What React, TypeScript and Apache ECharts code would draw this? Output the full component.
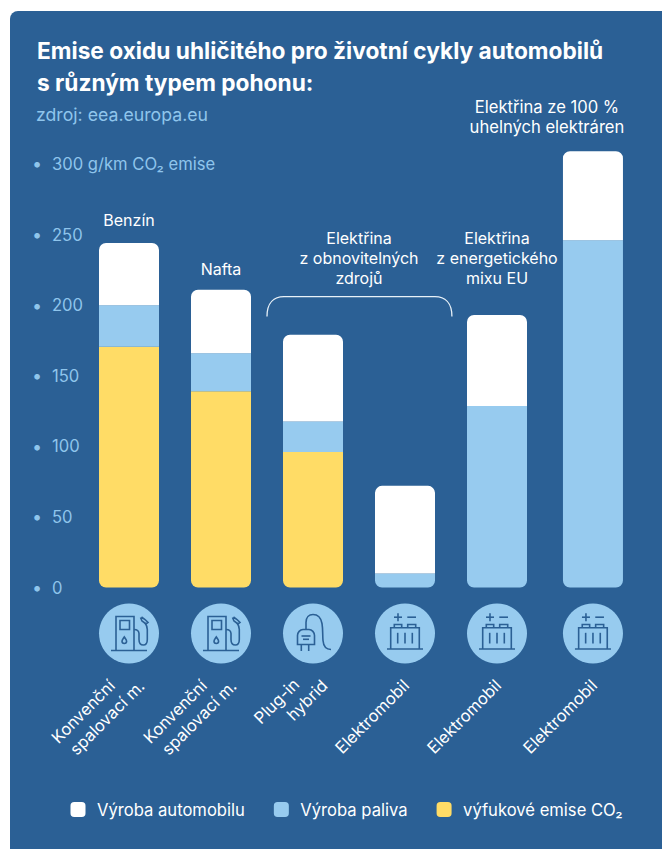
import React, { useEffect, useRef } from "react";
import * as echarts from "echarts";

const FONT = "Inter";
const PANEL = "#2b6095";
const SKY = "#97cbef";
const SAND = "#ffdc66";
const WHITE = "#ffffff";
const AXIS_TEXT = "#8fc5ec";

// Bar slots along the horizontal axis; the coal-powered car stands slightly apart.
const slots = [1, 2, 3, 4, 5, 6.043];
const exhaustEmissions = [170.6, 139, 96, 0, 0, 0];
const fuelProduction = [29.4, 27, 21.5, 10, 128.5, 246];
const carProduction = [44, 45, 61.5, 62, 64.5, 63];

const vehicleLabels = [
  ["Konvenční", "spalovací m."],
  ["Konvenční", "spalovací m."],
  ["Plug-in", "hybrid"],
  ["Elektromobil"],
  ["Elektromobil"],
  ["Elektromobil"],
];
const vehicleIcons = ["pump", "pump", "plug", "battery", "battery", "battery"];

const notes: [number, number, string, number][] = [
  [1, 260, "Benzín", 16],
  [2, 225.5, "Nafta", 16],
  [3.5, 233.5, "Elektřina\nz obnovitelných\nzdrojů", 16],
  [5, 233.5, "Elektřina\nz energetického\nmixu EU", 16],
  [5.543, 333, "Elektřina ze 100 %\nuhelných elektráren", 16.6],
];

const bracketSpan = [2.5, 4.51];
const bracketLevels = [192, 206];

const iconPaths: Record<string, string[]> = {
  pump: [
    "M-18 17H18",
    "M-13 17V-17H5V17",
    "M-9 -13H0.5V-4H-9Z",
    "M-4.7 3.5C-6 5.5 -7 6.5 -7 7.8C-7 9.2 -6 10 -4.7 10C-3.4 10 -2.4 9.2 -2.4 7.8C-2.4 6.5 -3.4 5.5 -4.7 3.5Z",
    "M5 -4C8 -4 9.8 -3 10 0V6C10 9.5 12 11.5 14.3 11.5C16.6 11.5 18.3 9.5 18.3 6V-4C18.3 -7 17.5 -8.5 16 -10.5",
    "M11.5 -16L13 -12.5L17 -9.5L19 -11L16 -14L12.5 -16.5",
  ],
  plug: [
    "M-7 -4V-11C-7 -16 -4 -19 0 -19C5 -19 8 -15.5 9 -10C10 -4 9.5 1 10 7C10.5 13 13 16 18 16",
    "M-15.5 11V2C-15.5 -1 -13 -4 -10 -4H-4C-1 -4 1.5 -1 1.5 2V11Z",
    "M-11.7 11V17.5",
    "M-4.3 11V17.5",
    "M-11.5 2.5H-2.5",
    "M-10 5.8H-4",
  ],
  battery: [
    "M-18 15.5H18",
    "M-14.3 15.5V-5.7H14.3V15.5",
    "M-10.7 -5.7V-9H-3.3V-5.7",
    "M2.7 -5.7V-9H10.7V-5.7",
    "M-7.3 -0.7V10",
    "M0 -0.7V10",
    "M7.3 -0.7V10",
    "M-11 -16.3H-3",
    "M-7 -20.3V-12.3",
    "M2.3 -16.3H11",
  ],
};

// Pixel offsets of each rotated text line's centre from its bar's foot.
const labelOffsets = [
  [[-46, 124], [-22, 130]],
  [[-46, 124], [-22, 130]],
  [[-36.5, 113.5], [-6, 112.5]],
  [[-33, 129]],
  [[-33, 129]],
  [[-33, 129]],
];

const BAR_WIDTH = 60;
const CORNER = 7;

// Sum of the segments stacked beneath the given series at bar i.
const floorOf = (layers: number[][], i: number) => layers.reduce((sum, layer) => sum + layer[i], 0);

export default function App() {
  const ref = useRef<HTMLDivElement>(null);

  useEffect(() => {
    const chart = echarts.init(ref.current!, null, { renderer: "svg" });

    const stackedSeries = (name: string, color: string, values: number[], below: number[][]) => ({
      name,
      type: "custom",
      coordinateSystem: "cartesian2d",
      itemStyle: { color },
      encode: { x: 0, y: [1, 2] },
      data: values.map((v, i) => [slots[i], floorOf(below, i), floorOf(below, i) + v]),
      renderItem: (params: any, api: any) => {
        const i = params.dataIndex;
        if (values[i] <= 0) return null;
        const [cx, y0] = api.coord([api.value(0), api.value(1)]);
        const [, y1] = api.coord([api.value(0), api.value(2)]);
        const isBottom = floorOf(below, i) === 0;
        const isTop = below.length === 2;
        const top = isTop ? CORNER : 0;
        const bottom = isBottom ? CORNER : 0;
        return {
          type: "rect",
          shape: {
            x: cx - BAR_WIDTH / 2,
            y: y1,
            width: BAR_WIDTH,
            height: y0 - y1,
            r: [top, top, bottom, bottom],
          },
          style: { fill: color },
        };
      },
    });

    chart.setOption({
      animation: false,
      backgroundColor: "#ffffff",
      graphic: [
        {
          type: "rect",
          z: -10,
          silent: true,
          shape: { x: 10, y: 11, width: 720, height: 900, r: 8 },
          style: { fill: PANEL },
        },
      ],
      title: [
        {
          text: "Emise oxidu uhličitého pro životní cykly automobilů\ns různým typem pohonu:",
          left: 32,
          top: 29,
          textStyle: { fontFamily: FONT, fontSize: 22.7, fontWeight: 700, color: WHITE, lineHeight: 32 },
        },
        {
          text: "zdroj: eea.europa.eu",
          left: 31,
          top: 100,
          textStyle: { fontFamily: FONT, fontSize: 17.7, fontWeight: 400, color: AXIS_TEXT },
        },
      ],
      legend: {
        left: 65.5,
        top: 796,
        icon: "roundRect",
        itemWidth: 15,
        itemHeight: 15,
        itemGap: 29,
        data: ["Výroba automobilu", "Výroba paliva", "výfukové emise CO₂"],
        textStyle: { fontFamily: FONT, fontSize: 16.6, color: WHITE, padding: [0, 0, 0, 6.5] },
      },
      grid: { left: 37, top: 93.4, width: 598, height: 494.1 },
      xAxis: { type: "value", min: 0, max: 6.5, show: false },
      yAxis: {
        type: "value",
        min: 0,
        max: 350,
        interval: 50,
        splitLine: { show: false },
        axisLine: { show: false },
        axisTick: { show: false },
        axisLabel: {
          show: true,
          margin: 5,
          align: "left",
          formatter: (v: number) => {
            if (v === 350) return "";
            const text = v === 300 ? "300 g/km CO₂ emise" : String(v);
            return `{dot|•}{num|${text}}`;
          },
          rich: {
            dot: { fontFamily: FONT, fontSize: 18, color: AXIS_TEXT, width: 20 },
            num: { fontFamily: FONT, fontSize: 16.6, color: AXIS_TEXT },
          },
        },
      },
      series: [
        stackedSeries("výfukové emise CO₂", SAND, exhaustEmissions, []),
        stackedSeries("Výroba paliva", SKY, fuelProduction, [exhaustEmissions]),
        stackedSeries("Výroba automobilu", WHITE, carProduction, [exhaustEmissions, fuelProduction]),
        {
          // Round badges with pictograms and slanted vehicle names under each bar.
          type: "custom",
          name: "vehicles",
          coordinateSystem: "cartesian2d",
          encode: { x: 0, y: 1 },
          data: slots.map((x) => [x, 0]),
          renderItem: (params: any, api: any) => {
            const i = params.dataIndex;
            const [cx, base] = api.coord([api.value(0), 0]);
            const iy = base + 46;
            return {
              type: "group",
              children: [
                { type: "circle", shape: { cx, cy: iy, r: 30 }, style: { fill: SKY } },
                ...iconPaths[vehicleIcons[i]].map((d) => ({
                  type: "path",
                  x: cx,
                  y: iy,
                  shape: { pathData: d },
                  style: { fill: "none", stroke: PANEL, lineWidth: 1.6 },
                })),
                ...vehicleLabels[i].map((line, n) => ({
                  type: "text",
                  x: cx + labelOffsets[i][n][0],
                  y: base + labelOffsets[i][n][1],
                  rotation: Math.PI / 4,
                  style: {
                    text: line,
                    fill: WHITE,
                    fontFamily: FONT,
                    fontSize: 16.5,
                    align: "center",
                    verticalAlign: "middle",
                  },
                })),
              ],
            };
          },
        },
        {
          // Free-standing notes above the bars.
          type: "custom",
          name: "notes",
          coordinateSystem: "cartesian2d",
          encode: { x: 0, y: 1 },
          data: notes.map((n) => [n[0], n[1]]),
          renderItem: (params: any, api: any) => {
            const [x, y] = api.coord([api.value(0), api.value(1)]);
            return {
              type: "text",
              x,
              y,
              style: {
                text: notes[params.dataIndex][2],
                fill: WHITE,
                fontFamily: FONT,
                fontSize: notes[params.dataIndex][3],
                lineHeight: 20,
                align: "center",
                verticalAlign: "middle",
              },
            };
          },
        },
        {
          // Bracket grouping the two cars charged from renewables.
          type: "custom",
          name: "bracket",
          coordinateSystem: "cartesian2d",
          encode: { x: 0, y: 1 },
          data: [[bracketSpan[0], bracketLevels[0], bracketSpan[1], bracketLevels[1]]],
          renderItem: (_: any, api: any) => {
            const [x0, y0] = api.coord([api.value(0), api.value(1)]);
            const [x1, y1] = api.coord([api.value(2), api.value(3)]);
            return {
              type: "path",
              shape: {
                pathData: `M${x0} ${y0}C${x0} ${y1 + 6} ${x0 + 7} ${y1} ${x0 + 17} ${y1}H${x1 - 17}C${x1 - 7} ${y1} ${x1} ${y1 + 6} ${x1} ${y0}`,
              },
              style: { fill: "none", stroke: "#e8f1f8", lineWidth: 1.3 },
            };
          },
        },
      ],
    });

    return () => chart.dispose();
  }, []);

  return <div ref={ref} style={{ position: "fixed", left: 0, top: 0, width: 662, height: 849 }} />;
}
